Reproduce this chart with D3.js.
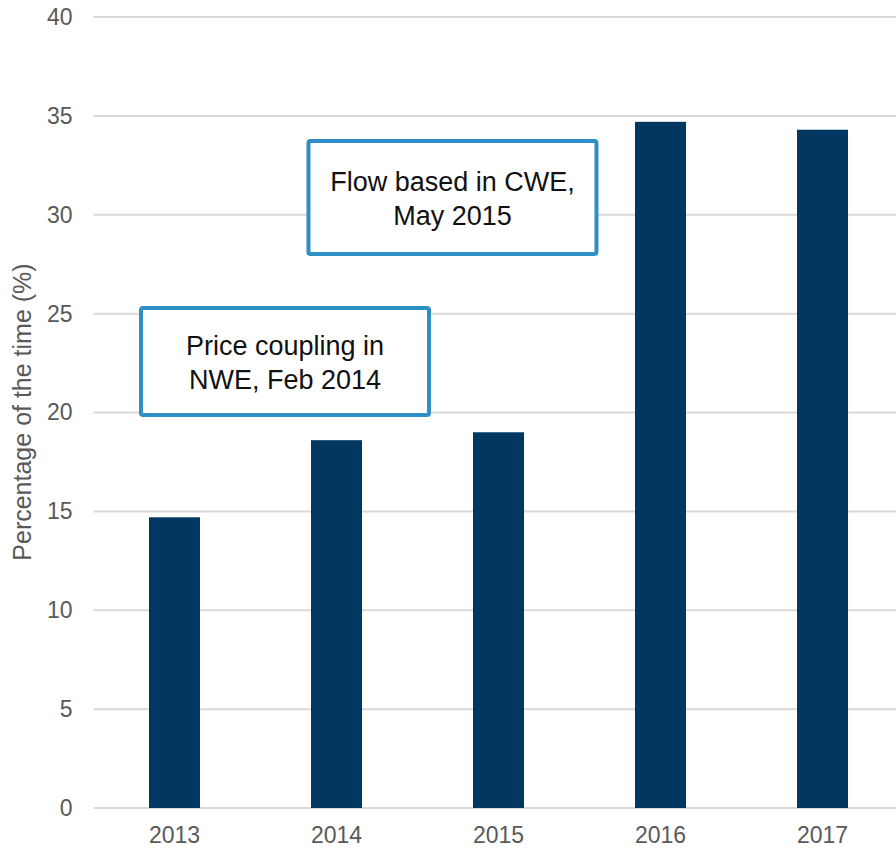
<!DOCTYPE html>
<html>
<head>
<meta charset="utf-8">
<script src="https://cdn.jsdelivr.net/npm/d3@7"></script>
<style>
  html, body { margin: 0; padding: 0; background: #fff; }
  svg { display: block; }
</style>
</head>
<body>
<svg id="chart" width="896" height="848"></svg>
<script>
// Share of hours affected, by year
const years = ["2013", "2014", "2015", "2016", "2017"];
const shares = [14.7, 18.6, 19.0, 34.7, 34.3];
const yTicks = [0, 5, 10, 15, 20, 25, 30, 35, 40];
const yTitle = "Percentage of the time (%)";

// Callout boxes: text lines, horizontal centre (in column index units) and vertical extent (data units)
const calloutLines = [
  ["Price coupling in", "NWE, Feb 2014"],
  ["Flow based in CWE,", "May 2015"]
];
const calloutCentre = [0.682, 1.716];
const calloutTop = [25.28, 33.73];
const calloutBottom = [19.87, 28.02];

const svg = d3.select("#chart");
const plotLeft = 93.5, plotRight = 903.5, plotTop = 17, plotBottom = 808;

const x = d3.scaleBand().domain(years).range([plotLeft, plotRight]).paddingInner(0.685).paddingOuter(0.3425);
const y = d3.scaleLinear().domain([0, 40]).range([plotBottom, plotTop]);
// continuous position across the columns (0 = centre of first column)
const xi = d3.scaleLinear()
  .domain([0, years.length - 1])
  .range([x(years[0]) + x.bandwidth() / 2, x(years[years.length - 1]) + x.bandwidth() / 2]);

const font = "'Liberation Sans', Arial, sans-serif";

// Horizontal gridlines
svg.append("g")
  .selectAll("line")
  .data(yTicks)
  .join("line")
  .attr("x1", plotLeft)
  .attr("x2", plotRight)
  .attr("y1", d => y(d))
  .attr("y2", d => y(d))
  .attr("stroke", "#d9d9d9")
  .attr("stroke-width", 2);

// Y axis labels
const yAxis = d3.axisLeft(y).tickValues(yTicks).tickSize(0).tickPadding(21);
svg.append("g")
  .attr("transform", `translate(${plotLeft},0)`)
  .call(yAxis)
  .call(g => g.select(".domain").remove())
  .call(g => g.selectAll("text")
    .attr("fill", "#595959")
    .style("font-family", font)
    .style("font-size", "23px"));

// X axis labels
const xAxis = d3.axisBottom(x).tickSize(0).tickPadding(19);
svg.append("g")
  .attr("transform", `translate(0,${plotBottom})`)
  .call(xAxis)
  .call(g => g.select(".domain").remove())
  .call(g => g.selectAll("text")
    .attr("fill", "#595959")
    .style("font-family", font)
    .style("font-size", "23px"));

// Bars
svg.append("g")
  .selectAll("rect")
  .data(years.map((yr, i) => ({ yr, v: shares[i] })))
  .join("rect")
  .attr("x", d => x(d.yr))
  .attr("width", x.bandwidth())
  .attr("y", d => y(d.v))
  .attr("height", d => y(0) - y(d.v))
  .attr("fill", "#023762");

// Y axis title
svg.append("text")
  .attr("transform", `translate(31,412) rotate(-90)`)
  .attr("text-anchor", "middle")
  .attr("fill", "#595959")
  .style("font-family", font)
  .style("font-size", "25px")
  .text(yTitle);

// Callout boxes
const boxW = 288;
calloutLines.forEach((lines, i) => {
  const cx = xi(calloutCentre[i]);
  const top = y(calloutTop[i]);
  const bot = y(calloutBottom[i]);
  const g = svg.append("g");
  g.append("rect")
    .attr("x", cx - boxW / 2)
    .attr("y", top)
    .attr("width", boxW)
    .attr("height", bot - top)
    .attr("rx", 2)
    .attr("fill", "#fff")
    .attr("stroke", "#2e8fc6")
    .attr("stroke-width", 4);
  const mid = (top + bot) / 2;
  g.selectAll("text")
    .data(lines)
    .join("text")
    .attr("x", cx)
    .attr("y", (d, j) => mid + (j - (lines.length - 1) / 2) * 34 + 10.5)
    .attr("text-anchor", "middle")
    .attr("fill", "#111")
    .style("font-family", font)
    .style("font-size", "27px")
    .text(d => d);
});
</script>
</body>
</html>
